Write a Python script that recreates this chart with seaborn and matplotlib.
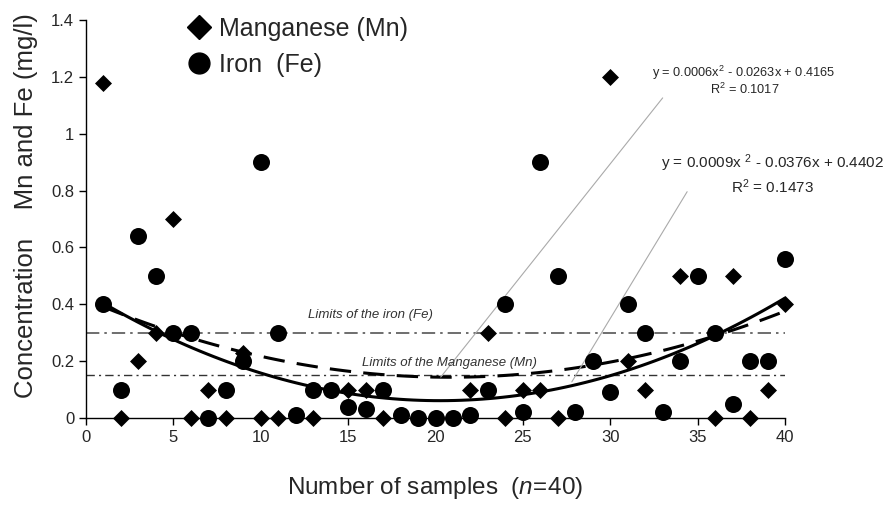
import numpy as np
import pandas as pd
import matplotlib
matplotlib.use("Agg")
import matplotlib.pyplot as plt
from matplotlib.lines import Line2D
import seaborn as sns

# sample number and concentrations (mg/l)
samples = list(range(1, 41))
mn = [1.18, 0.00, 0.20, 0.30, 0.70, 0.00, 0.10, 0.00, 0.23, 0.00,
      0.00, 0.01, 0.00, 0.10, 0.10, 0.10, 0.00, 0.01, 0.00, 0.00,
      0.00, 0.10, 0.30, 0.00, 0.10, 0.10, 0.00, 0.02, 0.20, 1.20,
      0.20, 0.10, 0.02, 0.50, 0.50, 0.00, 0.50, 0.00, 0.10, 0.40]
fe = [0.40, 0.10, 0.64, 0.50, 0.30, 0.30, 0.00, 0.10, 0.20, 0.90,
      0.30, 0.01, 0.10, 0.10, 0.04, 0.03, 0.10, 0.01, 0.00, 0.00,
      0.00, 0.01, 0.10, 0.40, 0.02, 0.90, 0.50, 0.02, 0.20, 0.09,
      0.40, 0.30, 0.02, 0.20, 0.50, 0.30, 0.05, 0.20, 0.20, 0.56]

fe_limit = 0.3
mn_limit = 0.15
eq_1 = "y = 0.0006x$^2$ - 0.0263x + 0.4165"
r2_1 = "R$^2$ = 0.1017"
eq_2 = "y = 0.0009x $^2$ - 0.0376x + 0.4402"
r2_2 = "R$^2$ = 0.1473"

df = pd.DataFrame({"sample": samples, "Mn": mn, "Fe": fe})

sns.set_style("ticks")
plt.rcParams["font.family"] = ["Liberation Sans", "DejaVu Sans"]
plt.rcParams["mathtext.fontset"] = "custom"
plt.rcParams["mathtext.rm"] = "Liberation Sans"
plt.rcParams["mathtext.it"] = "Liberation Sans:italic"

fig = plt.figure(figsize=(8.85, 5.05), dpi=100)
ax = fig.add_axes([0.0972, 0.1723, 0.7898, 0.7881])

# limit lines
ax.axhline(fe_limit, color="#555555", lw=1.2, ls=(0, (8, 3, 1.5, 3)), zorder=1)
ax.axhline(mn_limit, color="#333333", lw=1.0, ls=(0, (6, 3, 1.5, 3)), zorder=1)
ax.text(16.3, 0.362, "Limits of the iron (Fe)", style="italic", fontsize=9.5,
        color="#333333", ha="center", va="center")
ax.text(20.8, 0.195, "Limits of the Manganese (Mn)", style="italic", fontsize=9.5,
        color="#333333", ha="center", va="center")

# quadratic trend lines
sns.regplot(data=df, x="sample", y="Mn", order=2, scatter=False, ci=None, ax=ax,
            line_kws=dict(color="black", lw=2.2, ls="-"))
sns.regplot(data=df, x="sample", y="Fe", order=2, scatter=False, ci=None, ax=ax,
            line_kws=dict(color="black", lw=2.2, ls=(0, (7, 4))))

# points
sns.scatterplot(data=df, x="sample", y="Fe", marker="o", s=150, color="black",
                edgecolor="black", linewidth=0, ax=ax, zorder=4, clip_on=False)
sns.scatterplot(data=df, x="sample", y="Mn", marker="D", s=75, color="black",
                edgecolor="black", linewidth=0, ax=ax, zorder=5, clip_on=False)

# equation labels with pointers
ax.plot([33.0, 20.3], [1.126, 0.144], color="#aaaaaa", lw=0.8)
ax.plot([34.4, 27.8], [0.796, 0.127], color="#aaaaaa", lw=0.8)
ax.text(42.9, 1.214, eq_1, fontsize=9.2, ha="right", va="center")
ax.text(37.7, 1.156, r2_1, fontsize=9.2, ha="center", va="center")
ax.text(45.7, 0.895, eq_2, fontsize=11, ha="right", va="center")
ax.text(39.3, 0.812, r2_2, fontsize=11, ha="center", va="center")

ax.set_xlim(0, 40)
ax.set_ylim(0, 1.4)
ax.set_xticks(range(0, 41, 5))
ax.set_yticks([0, 0.2, 0.4, 0.6, 0.8, 1.0, 1.2, 1.4])
ax.set_yticklabels(["0", "0.2", "0.4", "0.6", "0.8", "1", "1.2", "1.4"])
ax.tick_params(labelsize=12, length=5, width=1, color="black", direction="out")
for side in ["left", "bottom"]:
    ax.spines[side].set_color("black")
    ax.spines[side].set_linewidth(1)
sns.despine(ax=ax)

ax.set_xlabel("Number of samples  ($\\mathit{n\\!=\\!40}$)", fontsize=17.5, labelpad=22)
ax.set_ylabel("Concentration    Mn and Fe (mg/l)", fontsize=18.5)
ax.yaxis.set_label_coords(-0.068, 0.533)

handles = [Line2D([], [], marker="D", ls="none", color="black", markersize=12),
           Line2D([], [], marker="o", ls="none", color="black", markersize=15)]
ax.legend(handles, ["Manganese (Mn)", "Iron  (Fe)"], loc="upper left",
          bbox_to_anchor=(0.108, 1.065), frameon=False, fontsize=18,
          handlelength=1.2, handletextpad=0.2, labelspacing=0.5)

fig.savefig("out.png", dpi=100)
